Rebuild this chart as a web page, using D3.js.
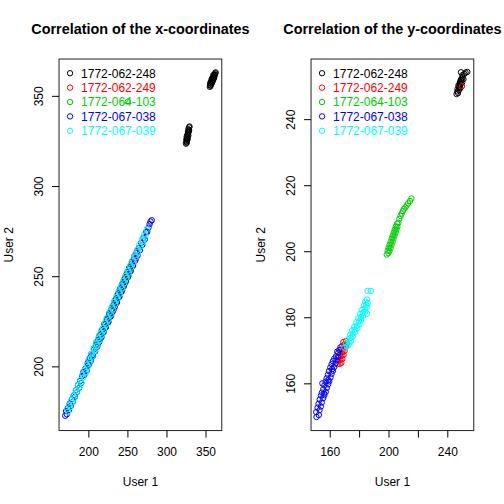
<!DOCTYPE html>
<html>
<head>
<meta charset="utf-8">
<script src="https://cdn.jsdelivr.net/npm/d3@7"></script>
<style>
  html, body { margin: 0; padding: 0; background: #ffffff; }
  text { font-family: "Liberation Sans", Arial, Helvetica, sans-serif; }
</style>
</head>
<body>
<script>
// ---------------- DATA ----------------
const seriesNames = ["1772-062-248", "1772-062-249", "1772-064-103", "1772-067-038", "1772-067-039"];

// Left panel: x-coordinates, [User 1, User 2]
const xc248 = [[325,323.5],[325.5,324.5],[326,325],[325.5,326],[326.5,326.5],[326,327.5],[327,327],[327,328.5],[327.5,329],[328,328],[327.5,330],[328.5,330.5],[328,331.5],[329,331],[329,332.5],[329.5,333],[326.5,325.5],[327,326],[328,329.5],[326,324],
  [355.5,355],[356,356],[356.5,355.5],[357,357],[357.5,356.5],[357,358],[358,358.5],[358.5,357.5],[359,359],[359.5,360],[360,359],[360.5,360.5],[361,361],[361.5,362],[362,361.5],[362.5,362.5],[363,363],[356,357],[358,359.5],[360,361.5],[359,358],[361,360]];
const xc249 = [[220.5,223.4],[222.3,221.9],[224.1,226.3],[225.8,224.7],[227.4,229.6],[229.2,228.1],[231,233.2],[232.7,231.5],[234.5,236.8],[236.2,235.1],[238,240.3],[239.8,238.6],[241.5,243.9],[243.3,242.2],[245.1,247.4],[246.8,245.9],[248.6,251],[250.4,249.3],[252.1,254.5],[253.9,252.8],[255.7,258],[257.4,256.2],[259.2,261.4],[261,259.8],[262.3,263.9]];
const xc103 = [[200.3,203.6],[201.9,202.1],[203.6,206.9],[205.2,205.3],[206.9,210.1],[208.5,208.6],[210.2,213.4],[211.8,211.9],[213.5,216.7],[215.1,215.1],[216.8,219.9],[218.4,218.3],[220.1,223.2],[221.7,221.6],[223.4,226.4],[225,224.9],[226.7,229.6],[228.3,228.1],[230,232.9],[231.6,231.4],[233.3,236.1],[234.9,234.6],[236.6,239.3],[238.2,237.9],[239.9,242.6],[241.5,241.1],[243.2,245.8],[244.8,244.4],[246.5,249.1],[248.1,247.6],[249.8,252.3],[251.4,250.8],[253,255.3],[254.6,254.1],[250.5,346.8]];
const xc038 = [[170.3,172.6],[171.5,175.2],[172.4,173.4],[173.8,176.9],[175.2,175.8],[176.1,179.4],[177.6,178.1],[178.9,181.7],[180.2,180.4],[181.3,183.9],[182.8,183.2],[184.1,186.8],[185.4,185.6],[186.7,189.6],[188.2,188.1],[189.3,191.9],[190.8,190.7],[192.1,194.6],[193.6,196.8],[194.9,195.3],[196.2,198.9],[197.8,197.6],[199.1,201.8],[200.4,200.9],[201.9,204.6],[203.3,203.1],[204.4,206.1],[205.9,205.7],[207.2,209.4],[208.6,208.3],[209.9,212.1],[211.4,210.9],[212.7,214.8],[214.1,213.6],[215.5,217.6],[216.8,216.2],[218.2,220.3],[219.6,219.1],[221,222.9],[222.5,221.8],[223.8,225.7],[225.3,224.4],[226.6,228.6],[228.1,227.4],[229.4,231.4],[230.9,230.1],[232.3,234.2],[233.8,232.9],[235.2,237.1],[236.6,235.6],[238.1,239.9],[239.5,238.6],[241,242.8],[242.4,241.3],[243.9,245.6],[245.3,244.2],[246.8,248.5],[248.2,247.1],[249.7,251.4],[251.1,249.9],[252.6,254.1],[254.1,252.8],[255.5,257],[257,255.7],[258.5,259.8],[260,258.6],[261.4,262.7],[263,261.5],[264.5,265.5],[266,264.4],[267.5,268.4],[269.1,267.4],[270.6,271.3],[272.2,270.3],[273.8,274.4],[275.4,274.6],[277,276.9],[278.4,278.9],[279.6,280.3],[281.2,281]];
const xc039 = [[172.6,176.1],[173.9,174.8],[175.4,178.6],[176.8,177.4],[178.1,181.3],[179.7,180.1],[181,183.8],[182.4,182.6],[183.9,186.7],[185.2,185.5],[186.7,189.6],[188.1,188.3],[189.6,192.4],[190.9,191],[192.4,195.3],[193.8,193.9],[195.3,198.2],[196.7,196.7],[198.2,201],[199.6,199.8],[201.1,204],[202.5,202.7],[204,206.9],[205.4,205.5],[206.9,209.8],[208.3,208.5],[209.8,212.6],[211.2,211.4],[212.7,215.5],[214.1,214.3],[215.6,218.4],[217,217.2],[218.5,221.3],[219.9,220.1],[221.4,224.2],[222.8,223],[224.3,227.1],[225.7,225.8],[227.2,230],[228.6,228.7],[230.1,232.9],[231.5,231.6],[233,235.8],[234.4,234.5],[235.9,238.6],[237.3,237.4],[238.8,241.5],[240.2,240.3],[241.7,244.4],[243.1,243.2],[244.6,247.3],[246,246.1],[247.5,250.2],[248.9,249],[250.4,253],[251.8,251.9],[253.3,255.9],[254.7,254.8],[256.2,258.7],[257.7,257.7],[259.2,261.5],[260.7,260.6],[262.2,264.4],[263.7,263.6],[265.2,267.3],[266.8,266.5],[268.3,270.2],[269.9,269.5],[271.5,273.1],[273.1,272.6],[274.8,276.2]];

// Right panel: y-coordinates, [User 1, User 2]
const yc248 = [[246.3,247.6],[246.8,248.4],[247.3,247.9],[247,249.2],[247.8,248.8],[248.2,249.6],[247.6,250.2],[248.4,250.7],[248.9,249.4],[249.1,250.6],[248.6,251.2],[249.5,251.6],[250.1,251.1],[249.7,252.2],[250.4,252.6],[251,252.1],[250.2,253.3],[251.6,253.7],[252.4,254.1],[249.3,254.2],[253.6,254.3],[248.1,249.9],[249.2,251.9]];
const yc249 = [[165.4,165.8],[166.8,165.9],[167.9,166.2],[165.9,166.8],[167.3,167.1],[168.6,167.4],[166.5,167.9],[168,168.3],[169.4,168.6],[167.2,169],[168.7,169.4],[170.1,169.8],[167.9,170.2],[169.5,170.6],[170.9,171],[168.6,171.4],[170.2,171.8],[171.6,172.1],[169.3,172.5],[171,172.8],[250,250]];
const yc103 = [[198.8,199],[199.9,199.4],[199.4,200.2],[200.6,200.1],[200.1,201.1],[201.4,201],[200.8,202],[202.1,202],[201.5,202.9],[202.8,202.9],[202.2,203.9],[203.4,203.8],[202.9,204.8],[204.1,204.7],[203.6,205.7],[204.8,205.6],[204.3,206.6],[205.4,206.5],[205,207.5],[206,207.4],[205.8,208.4],[206.7,208.6],[207.4,209.8],[208.2,210.7],[209,211.4],[209.8,212.2],[210.6,212.9],[211.5,213.3],[212.4,213.8],[213.3,214.5],[214.6,215.2],[215.6,216]];
const yc038 = [[151,149.8],[152.6,150.4],[150.8,151.3],[153.1,151.9],[151.7,152.6],[154,153],[152.4,153.8],[154.6,154.2],[153.2,155.1],[155.5,155.5],[154,156.3],[156.4,156.4],[154.7,157.2],[157.3,157.4],[155.6,158.2],[158,158.6],[156.4,159.4],[158.9,159.7],[157.2,160.5],[159.7,160.6],[157.9,161.5],[160.6,161.8],[158.8,162.6],[161.3,162.9],[159.5,163.7],[162.2,163.8],[160.4,164.8],[163,164.9],[161.3,165.8],[163.9,166],[162.2,166.7],[164.6,167],[163.1,167.5],[165.5,167.9],[164.3,168.2],[155,160],[156.2,156.9],[159.1,161],[161.7,164.3],[165.8,169.2],[166.6,170.1],[167.3,170.9],[165.1,169.6]];
const yc039 = [[170,170.8],[171.6,171.2],[172.8,171.6],[171.2,172.1],[173.4,172.4],[174.6,172.9],[172.5,173.3],[174.3,173.8],[175.8,174.2],[173.9,174.7],[175.6,175.1],[177.2,175.5],[175.2,176],[177,176.3],[178.8,176.7],[176.6,177.1],[178.5,177.5],[180.3,177.9],[178.1,178.5],[179.9,178.8],[181.5,179.2],[179.5,179.7],[181.2,180.1],[182.8,180.4],[180.8,181],[182.5,181.3],[184.1,181.7],[182.1,182.3],[183.8,182.6],[185.2,182.9],[183.3,183.5],[184.9,183.8],[185.8,184.3],[184.2,184.8],[185.3,185.4],[185.5,181.1],[185.8,188],[188.1,188]];

const leftXTicks = [200, 250, 300, 350];
const leftYTicks = [200, 250, 300, 350];
const rightXTicks = [160, 180, 200, 220, 240];
const rightXLabels = [160, 200, 240];
const rightYTicks = [160, 180, 200, 220, 240];

// ---------------- STYLE / LAYOUT ----------------
const colors = ["#000000", "#FF0000", "#00CD00", "#0000FF", "#00FFFF"];
const svg = d3.select("body").append("svg").attr("width", 504).attr("height", 504);

function drawPanel(cfg) {
  const x = d3.scaleLinear().domain(cfg.xDomain).range([cfg.left, cfg.right]);
  const y = d3.scaleLinear().domain(cfg.yDomain).range([cfg.bottom, cfg.top]);
  const g = svg.append("g");

  cfg.series.forEach((pts, i) => {
    g.append("g").selectAll("circle").data(pts).join("circle")
      .attr("cx", d => x(d[0])).attr("cy", d => y(d[1])).attr("r", 2.7)
      .attr("fill", "none").attr("stroke", colors[i]).attr("stroke-width", 1);
  });

  g.append("rect").attr("x", cfg.left).attr("y", cfg.top)
    .attr("width", cfg.right - cfg.left).attr("height", cfg.bottom - cfg.top)
    .attr("fill", "none").attr("stroke", "#222").attr("stroke-width", 1);

  const xAxis = d3.axisBottom(x).tickValues(cfg.xTicks).tickSize(7).tickPadding(0)
    .tickFormat(d => cfg.xLabels.includes(d) ? d : "");
  const gx = g.append("g").attr("transform", `translate(0,${cfg.bottom})`).call(xAxis);
  gx.select(".domain").remove();
  gx.selectAll(".tick line").attr("stroke", "#000");
  gx.selectAll(".tick text").attr("y", 25.5).attr("dy", null)
    .style("font-size", "12px").style("font-family", "Liberation Sans, Arial, sans-serif").attr("fill", "#000");

  const yAxis = d3.axisLeft(y).tickValues(cfg.yTicks).tickSize(7).tickPadding(0);
  const gy = g.append("g").attr("transform", `translate(${cfg.left},0)`).call(yAxis);
  gy.select(".domain").remove();
  gy.selectAll(".tick line").attr("stroke", "#000");
  gy.selectAll(".tick text").attr("x", null).attr("dy", null)
    .attr("transform", "translate(-16.3,0) rotate(-90)")
    .attr("text-anchor", "middle")
    .style("font-size", "12px").style("font-family", "Liberation Sans, Arial, sans-serif").attr("fill", "#000");

  const cx = (cfg.left + cfg.right) / 2;
  const cy = (cfg.top + cfg.bottom) / 2;
  g.append("text").attr("x", cx).attr("y", 34.3).attr("text-anchor", "middle")
    .style("font-size", "14.4px").style("font-weight", "bold").text(cfg.title);
  g.append("text").attr("x", cx).attr("y", 486).attr("text-anchor", "middle")
    .style("font-size", "12px").text("User 1");
  g.append("text").attr("transform", `translate(${cfg.left - 46},${cy}) rotate(-90)`)
    .attr("text-anchor", "middle").style("font-size", "12px").text("User 2");

  seriesNames.forEach((name, i) => {
    const by = 77.5 + i * 14.4;
    g.append("circle").attr("cx", cfg.left + 11).attr("cy", by - 4.3).attr("r", 2.7)
      .attr("fill", "none").attr("stroke", colors[i]).attr("stroke-width", 1);
    g.append("text").attr("x", cfg.left + 22).attr("y", by)
      .style("font-size", "12px").attr("fill", colors[i]).text(name);
  });
}

drawPanel({
  left: 59.04, right: 221.76, top: 59.04, bottom: 430.56,
  xDomain: [162.44, 370.8], yDomain: [164.4, 370.4],
  xTicks: leftXTicks, xLabels: leftXTicks, yTicks: leftYTicks,
  title: "Correlation of the x-coordinates",
  series: [xc248, xc249, xc103, xc038, xc039]
});
drawPanel({
  left: 311.04, right: 473.76, top: 59.04, bottom: 430.56,
  xDomain: [147.3, 258.0], yDomain: [145.7, 258.2],
  xTicks: rightXTicks, xLabels: rightXLabels, yTicks: rightYTicks,
  title: "Correlation of the y-coordinates",
  series: [yc248, yc249, yc103, yc038, yc039]
});
</script>
</body>
</html>
